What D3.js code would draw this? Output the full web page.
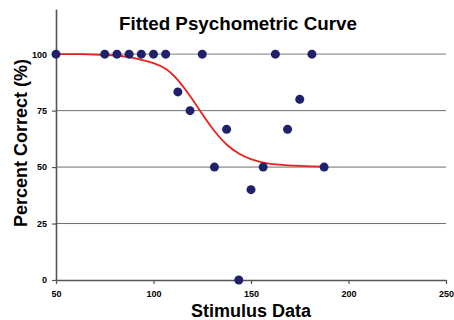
<!DOCTYPE html>
<html>
<head>
<meta charset="utf-8">
<script src="https://cdn.jsdelivr.net/npm/d3@7"></script>
<style>
  body { margin: 0; background: #fff; }
  svg { font-family: "Liberation Sans", Arial, sans-serif; }
</style>
</head>
<body>
<script>
// observed data
var stimulus = [50, 75, 81.25, 87.5, 93.75, 100, 106.25, 112.5, 118.75, 125, 131.25, 137.5, 143.75, 150, 156.25, 162.5, 168.75, 175, 181.25, 187.5];
var correct = [100, 100, 100, 100, 100, 100, 100, 83.3, 75, 100, 50, 66.7, 0, 40, 50, 100, 66.7, 80, 100, 50];

// fitted curve
var fitX = [50, 62.5, 75, 81.25, 87.5, 93.75, 100, 106.25, 112.5, 118.75, 125, 131.25, 137.5, 143.75, 150, 156.25, 162.5, 168.75, 175, 181.25, 187.5];
var fitY = [100, 100, 99.6, 99.3, 98.7, 97.5, 96, 93.5, 88.5, 81.5, 73.5, 66, 60, 56, 53.5, 52, 51.2, 50.8, 50.5, 50.3, 50.2];

var xTicks = [50, 100, 150, 200, 250];
var yTicks = [0, 25, 50, 75, 100];

var w = 454, h = 320;

var svg = d3.select("body")
  .append("svg")
  .attr("width", w)
  .attr("height", h);

var xScale = d3.scaleLinear()
  .domain([50, 250])
  .range([56, 446]);

var yScale = d3.scaleLinear()
  .domain([0, 120])
  .range([280, 9]);

//gridlines
svg.append("g")
  .selectAll("line")
  .data(yTicks.filter(d => d > 0))
  .enter()
  .append("line")
  .attr("x1", xScale(50))
  .attr("x2", xScale(250))
  .attr("y1", d => yScale(d))
  .attr("y2", d => yScale(d))
  .attr("stroke", d => d == 100 ? "#b4b4b4" : "#6e6e6e")
  .attr("stroke-width", d => d == 100 ? 1.6 : 1);

//axes
var xAxis = d3.axisBottom(xScale)
  .tickValues(xTicks)
  .tickSize(4)
  .tickSizeOuter(0);

var yAxis = d3.axisLeft(yScale)
  .tickValues(yTicks)
  .tickSize(4)
  .tickSizeOuter(0);

var gx = svg.append("g")
  .attr("transform", "translate(0," + yScale(0) + ")")
  .call(xAxis);

var gy = svg.append("g")
  .attr("transform", "translate(" + xScale(50) + ",0)")
  .call(yAxis);

[gx, gy].forEach(function(g) {
  g.select(".domain").attr("stroke", "#555").attr("stroke-width", 1.6);
  g.selectAll(".tick line").attr("stroke", "#555").attr("stroke-width", 1.2);
  g.selectAll(".tick text")
    .attr("font-family", "'Liberation Sans Narrow', 'Liberation Sans', Arial, sans-serif")
    .attr("font-size", 9)
    .attr("font-weight", "bold")
    .attr("fill", "#000");
});
gx.selectAll(".tick text").attr("dy", "1.1em");
gy.selectAll(".tick text").attr("x", -9);

//fitted curve
var line = d3.line()
  .x((d, i) => xScale(fitX[i]))
  .y((d, i) => yScale(fitY[i]))
  .curve(d3.curveMonotoneX);

svg.append("path")
  .datum(fitY)
  .attr("d", line)
  .attr("fill", "none")
  .attr("stroke", "#e8221e")
  .attr("stroke-width", 1.8);

//points
svg.append("g")
  .selectAll("circle")
  .data(correct)
  .enter()
  .append("circle")
  .attr("cx", (d, i) => xScale(stimulus[i]))
  .attr("cy", d => yScale(d))
  .attr("r", 4.5)
  .attr("fill", "#1f226b");

//labels
svg.append("text")
  .attr("x", 238)
  .attr("y", 30)
  .attr("text-anchor", "middle")
  .attr("font-size", 18.8)
  .attr("font-weight", "bold")
  .text("Fitted Psychometric Curve");

svg.append("text")
  .attr("x", 251)
  .attr("y", 317)
  .attr("text-anchor", "middle")
  .attr("font-size", 18)
  .attr("font-weight", "bold")
  .text("Stimulus Data");

svg.append("text")
  .attr("transform", "translate(27,143) rotate(-90)")
  .attr("text-anchor", "middle")
  .attr("font-size", 18)
  .attr("font-weight", "bold")
  .text("Percent Correct (%)");
</script>
</body>
</html>
